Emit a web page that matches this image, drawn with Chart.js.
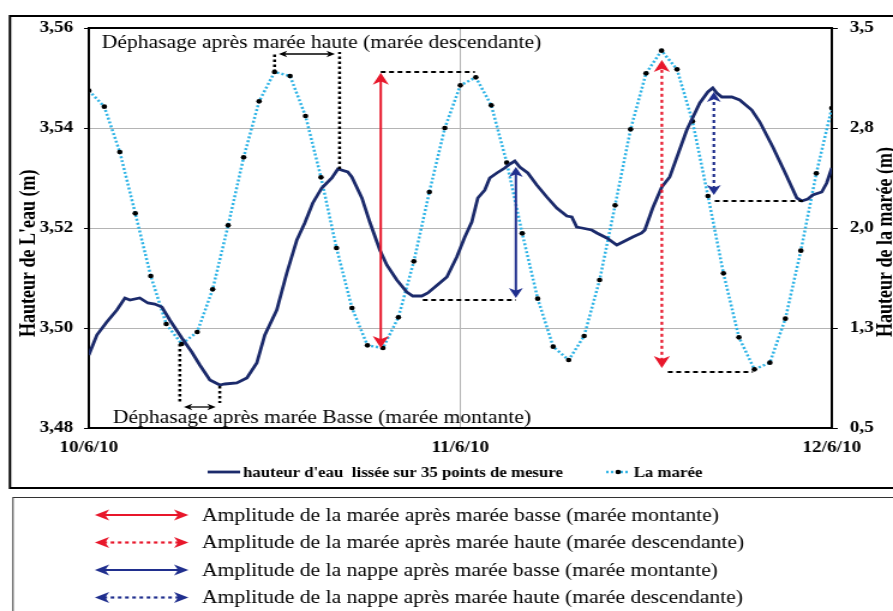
<!DOCTYPE html>
<html lang="fr">
<head>
<meta charset="utf-8">
<title>Hauteur d'eau et marée</title>
<script src="https://cdn.jsdelivr.net/npm/chart.js@4/dist/chart.umd.min.js"></script>
<style>
  html, body { margin: 0; padding: 0; background: #fff; }
  #fig { display: block; }
</style>
</head>
<body>
<!-- drawn at 744px wide, widened to the page by CSS -->
<canvas id="fig" width="744" height="611" style="width:893px;height:611px"></canvas>
<script>
'use strict';

// ── Data ────────────────────────────────────────────────
const dayHours  = [0, 24, 48];
const dayLabels = ['10/6/10', '11/6/10', '12/6/10'];

const levelTicks = [3.48, 3.50, 3.52, 3.54, 3.56];
const tideTicks  = [0.5, 1.25, 2.0, 2.75, 3.5];

// tide gauge, one reading per hour (m)
const tideHours = [0, 1, 2, 3, 4, 5, 6, 7, 8, 9, 10, 11, 12, 13, 14, 15, 16, 17, 18, 19, 20,
  21, 22, 23, 24, 25, 26, 27, 28, 29, 30, 31, 32, 33, 34, 35, 36, 37, 38, 39, 40,
  41, 42, 43, 44, 45, 46, 47, 48];
const tideHeight = [3.03, 2.91, 2.57, 2.11, 1.64, 1.28, 1.13, 1.22, 1.54, 2.02, 2.53,
  2.95, 3.17, 3.14, 2.84, 2.38, 1.85, 1.40, 1.12, 1.10, 1.33, 1.75, 2.27, 2.75, 3.07,
  3.13, 2.92, 2.49, 1.96, 1.47, 1.11, 1.01, 1.19, 1.61, 2.17, 2.74, 3.16, 3.33, 3.19,
  2.80, 2.24, 1.66, 1.18, 0.94, 0.99, 1.32, 1.83, 2.41, 2.90];

// piezometer, smoothed over 35 readings (m)
const levelHours = [0, 0.52, 1.16, 1.81, 2.33, 2.65, 3.29, 3.81, 4.26, 4.72,
  5.23, 6.01, 6.65, 7.17, 7.82, 8.46, 8.79, 9.56, 10.21, 10.85,
  11.37, 12.14, 12.79, 13.44, 13.95, 14.47, 15.05, 15.70, 16.09, 16.73,
  16.99, 17.64, 18.15, 18.80, 19.25, 19.90, 20.54, 20.93, 21.51, 21.90,
  22.67, 23.13, 23.77, 24.29, 24.74, 25.13, 25.58, 25.90, 26.36, 26.87,
  27.20, 27.52, 27.84, 28.36, 28.94, 29.59, 30.23, 30.88, 31.20, 31.52,
  31.85, 32.49, 32.82, 33.46, 34.11, 34.50, 35.14, 35.72, 35.92, 36.43,
  37.02, 37.53, 38.63, 39.47, 39.99, 40.31, 40.57, 40.89, 41.54, 42.05,
  42.83, 43.35, 44.19, 44.96, 45.74, 46.06, 46.45, 46.77, 47.35, 47.67, 48.0];
const levelHeight = [3.4946, 3.4986, 3.5012, 3.5036, 3.5060, 3.5056, 3.5060, 3.5050, 3.5048, 3.5042,
  3.5016, 3.4980, 3.4952, 3.4926, 3.4896, 3.4886, 3.4888, 3.4890, 3.4900, 3.4930,
  3.4986, 3.5036, 3.5110, 3.5176, 3.5210, 3.5250, 3.5280, 3.5300, 3.5318, 3.5312,
  3.5302, 3.5260, 3.5212, 3.5156, 3.5126, 3.5096, 3.5072, 3.5064, 3.5064, 3.5070,
  3.5090, 3.5102, 3.5142, 3.5182, 3.5212, 3.5260, 3.5276, 3.5300, 3.5310, 3.5320,
  3.5328, 3.5334, 3.5322, 3.5310, 3.5286, 3.5262, 3.5240, 3.5224, 3.5222, 3.5202,
  3.5200, 3.5196, 3.5190, 3.5180, 3.5166, 3.5172, 3.5182, 3.5190, 3.5196, 3.5240,
  3.5282, 3.5302, 3.5396, 3.5450, 3.5472, 3.5480, 3.5470, 3.5462, 3.5462, 3.5456,
  3.5436, 3.5412, 3.5362, 3.5312, 3.5260, 3.5254, 3.5258, 3.5266, 3.5272, 3.5290, 3.5320];

// amplitude arrows: [hour, low, high]
const tideRiseArrow  = [18.86, 1.10, 3.165];    // tide axis
const tideFallArrow  = [37.02, 0.95, 3.26];     // tide axis
const levelRiseArrow = [27.59, 3.5060, 3.5322]; // level axis
const levelFallArrow = [40.38, 3.5266, 3.5472]; // level axis

// dashed reference levels: [hourFrom, hourTo, value]
const tideRiseRef  = [18.86, 24.94, 3.17];
const tideFallRef  = [37.41, 42.90, 0.92];
const levelRiseRef = [21.58, 27.59, 3.5056];
const levelFallRef = [40.44, 46.13, 3.5254];

// phase shift brackets (level axis): legs [hour, start], bar [hourFrom, hourTo, value]
const highShiftLegs = [[12.0, 3.5512], [16.2, 3.5318]];
const highShiftEnd  = 3.5552;
const highShiftBar  = [12.27, 15.9, 3.5548];
const lowShiftLegs  = [[5.88, 3.4968], [8.46, 3.4884]];
const lowShiftEnd   = 3.4850;
const lowShiftBar   = [6.14, 8.2, 3.4842];

const seriesNames = ["hauteur d'eau  lissée sur 35 points de mesure", 'La marée'];
const highShiftText = 'Déphasage après marée haute (marée descendante)';
const lowShiftText  = 'Déphasage après marée Basse (marée montante)';
const keyRows = [
  'Amplitude de la marée après marée basse (marée montante)',
  'Amplitude de la marée après marée haute (marée descendante)',
  'Amplitude de la nappe après marée basse (marée montante)',
  'Amplitude de la nappe après marée haute (marée descendante)',
];

// ── Style ───────────────────────────────────────────────
const SERIF = "'Liberation Serif', 'Times New Roman', serif";
const NAVY  = '#1b2a6b';
const SKY   = '#2fb4e6';
const RED   = '#e8172b';
const BLUE  = '#202f8e';
const GRID  = '#b4b4b4';

Chart.defaults.font.family = SERIF;
Chart.defaults.color = '#000';

// ── Drawing helpers ─────────────────────────────────────
function head(ctx, x, y, ux, uy, len, half) {
  const bx = x - ux * len, by = y - uy * len;
  const nx = -uy, ny = ux;
  ctx.beginPath();
  ctx.moveTo(x, y);
  ctx.lineTo(bx + nx * half, by + ny * half);
  ctx.lineTo(x - ux * len * 0.72, y - uy * len * 0.72);
  ctx.lineTo(bx - nx * half, by - ny * half);
  ctx.closePath();
  ctx.fill();
}

function doubleArrow(ctx, x1, y1, x2, y2, o) {
  const d = Math.hypot(x2 - x1, y2 - y1);
  const ux = (x2 - x1) / d, uy = (y2 - y1) / d;
  ctx.save();
  ctx.strokeStyle = ctx.fillStyle = o.color;
  ctx.lineWidth = o.width;
  ctx.setLineDash(o.dash || []);
  ctx.beginPath();
  ctx.moveTo(x1 + ux * o.len * 0.6, y1 + uy * o.len * 0.6);
  ctx.lineTo(x2 - ux * o.len * 0.6, y2 - uy * o.len * 0.6);
  ctx.stroke();
  ctx.setLineDash([]);
  head(ctx, x2, y2, ux, uy, o.len, o.half);
  head(ctx, x1, y1, -ux, -uy, o.len, o.half);
  ctx.restore();
}

function segment(ctx, x1, y1, x2, y2, width, dash) {
  ctx.save();
  ctx.strokeStyle = '#000';
  ctx.lineWidth = width;
  ctx.setLineDash(dash);
  ctx.beginPath();
  ctx.moveTo(x1, y1);
  ctx.lineTo(x2, y2);
  ctx.stroke();
  ctx.restore();
}

const ampStyles = {
  redSolid:  { color: RED,  width: 2,   len: 12, half: 6.7 },
  redDot:    { color: RED,  width: 2.2, len: 12, half: 6.7, dash: [3, 3] },
  blueSolid: { color: BLUE, width: 2,   len: 10, half: 5.8 },
  blueDot:   { color: BLUE, width: 2.2, len: 10, half: 5.8, dash: [3, 3] },
};

// ── Annotations on the plot ─────────────────────────────
const annotations = {
  id: 'annotations',
  afterDatasetsDraw(chart) {
    const { ctx, scales: { x, y, y1 } } = chart;
    const X = h => x.getPixelForValue(h);

    // dashed reference levels
    const dash = [4, 3];
    [[tideRiseRef, y1], [tideFallRef, y1], [levelRiseRef, y], [levelFallRef, y]].forEach(([r, s]) => {
      segment(ctx, X(r[0]), s.getPixelForValue(r[2]), X(r[1]), s.getPixelForValue(r[2]), 2, dash);
    });

    // amplitude arrows
    const amp = (a, s, st) => doubleArrow(ctx, X(a[0]), s.getPixelForValue(a[1]), X(a[0]), s.getPixelForValue(a[2]), st);
    amp(tideRiseArrow, y1, ampStyles.redSolid);
    amp(tideFallArrow, y1, ampStyles.redDot);
    amp(levelRiseArrow, y, ampStyles.blueSolid);
    amp(levelFallArrow, y, ampStyles.blueDot);

    // phase shift brackets
    const dots = [2.5, 2.5];
    highShiftLegs.forEach(([h, v]) => segment(ctx, X(h), y.getPixelForValue(v), X(h), y.getPixelForValue(highShiftEnd), 2.5, dots));
    lowShiftLegs.forEach(([h, v]) => segment(ctx, X(h), y.getPixelForValue(v), X(h), y.getPixelForValue(lowShiftEnd), 2.5, dots));
    const small = { color: '#000', width: 1.3, len: 7, half: 3.2 };
    doubleArrow(ctx, X(highShiftBar[0]), y.getPixelForValue(highShiftBar[2]), X(highShiftBar[1]), y.getPixelForValue(highShiftBar[2]), small);
    doubleArrow(ctx, X(lowShiftBar[0]), y.getPixelForValue(lowShiftBar[2]), X(lowShiftBar[1]), y.getPixelForValue(lowShiftBar[2]), small);

    ctx.save();
    ctx.fillStyle = '#000';
    ctx.font = `18px ${SERIF}`;
    ctx.textBaseline = 'alphabetic';
    ctx.fillText(highShiftText, 84.7, 48);
    ctx.fillText(lowShiftText, 94.1, 422.5);
    ctx.restore();
  },
};

// ── Frames, titles, legend and key ──────────────────────
const figure = {
  id: 'figure',
  beforeDraw(chart) {
    const { ctx } = chart;
    ctx.save();
    ctx.fillStyle = '#fff';
    ctx.fillRect(0, 0, chart.width, chart.height);
    ctx.strokeStyle = '#000';
    ctx.lineWidth = 2;
    ctx.strokeRect(8.3, 16, 800, 472);
    ctx.lineWidth = 1;
    ctx.strokeStyle = '#333';
    ctx.strokeRect(10.8, 497.5, 800, 200);
    ctx.restore();
  },
  afterDraw(chart) {
    const { ctx, chartArea: a } = chart;
    ctx.save();

    // top edge of the plot area
    ctx.strokeStyle = '#000';
    ctx.lineWidth = 2;
    ctx.beginPath();
    ctx.moveTo(a.left, a.top);
    ctx.lineTo(a.right, a.top);
    ctx.stroke();

    // axis titles, both read upwards
    ctx.fillStyle = '#000';
    ctx.font = `bold 18px ${SERIF}`;
    ctx.textBaseline = 'alphabetic';
    [[29, "Hauteur de L'eau (m)"], [743.3, 'Hauteur de la marée (m)']].forEach(([bx, t]) => {
      ctx.save();
      ctx.translate(bx, 337);
      ctx.rotate(-Math.PI / 2);
      ctx.fillText(t, 0, 0);
      ctx.restore();
    });

    // series legend
    const ly = 472;
    ctx.strokeStyle = NAVY;
    ctx.lineWidth = 2.8;
    ctx.beginPath(); ctx.moveTo(173, ly); ctx.lineTo(200, ly); ctx.stroke();
    ctx.strokeStyle = SKY;
    ctx.lineWidth = 2.5;
    ctx.setLineDash([2, 2]);
    ctx.beginPath(); ctx.moveTo(505, ly); ctx.lineTo(524, ly); ctx.stroke();
    ctx.setLineDash([]);
    ctx.fillStyle = '#000';
    ctx.beginPath(); ctx.arc(515, ly, 2.3, 0, Math.PI * 2); ctx.fill();
    ctx.font = `bold 14px ${SERIF}`;
    ctx.textBaseline = 'middle';
    ctx.fillText(seriesNames[0], 202.5, ly + 1);
    ctx.fillText(seriesNames[1], 528, ly + 1);

    // key of the amplitude arrows
    const keyStyles = [ampStyles.redSolid, ampStyles.redDot, ampStyles.blueSolid, ampStyles.blueDot];
    const rowY = [515, 542.5, 570, 597.5];
    ctx.font = `18px ${SERIF}`;
    keyRows.forEach((t, i) => {
      const st = { ...keyStyles[i], len: 12, half: 5.5 };
      doubleArrow(ctx, 79, rowY[i], 157, rowY[i], st);
      ctx.fillStyle = '#000';
      ctx.fillText(t, 168.3, rowY[i] + 1);
    });
    ctx.restore();
  },
};

// ── Chart ───────────────────────────────────────────────
const tickFont = { family: SERIF, size: 16, weight: 'bold' };

new Chart(document.getElementById('fig'), {
  type: 'line',
  data: {
    datasets: [
      {
        label: seriesNames[0],
        data: levelHours.map((h, i) => ({ x: h, y: levelHeight[i] })),
        yAxisID: 'y',
        borderColor: NAVY,
        borderWidth: 2.8,
        pointRadius: 0,
        tension: 0,
      },
      {
        label: seriesNames[1],
        data: tideHours.map((h, i) => ({ x: h, y: tideHeight[i] })),
        yAxisID: 'y1',
        borderColor: SKY,
        borderWidth: 2.5,
        borderDash: [2, 2],
        pointRadius: 2.3,
        pointBackgroundColor: '#000',
        pointBorderWidth: 0,
        tension: 0,
      },
    ],
  },
  options: {
    responsive: false,
    animation: false,
    devicePixelRatio: 1,
    layout: { padding: { left: 8, right: 0, top: 28, bottom: 153 } },
    plugins: { legend: { display: false }, tooltip: { enabled: false } },
    scales: {
      x: {
        type: 'linear',
        min: 0, max: 48,
        afterBuildTicks: s => { s.ticks = dayHours.map(v => ({ value: v })); },
        afterFit: s => { s.height = 30; },
        ticks: { font: tickFont, color: '#000', padding: 10, maxRotation: 0, autoSkip: false,
                 callback: v => dayLabels[dayHours.indexOf(v)] },
        grid: { color: GRID, lineWidth: 1, drawTicks: false },
        border: { color: '#000', width: 2 },
      },
      y: {
        position: 'left',
        min: 3.48, max: 3.56,
        afterBuildTicks: s => { s.ticks = levelTicks.map(v => ({ value: v })); },
        afterFit: s => { s.width = 66; },
        ticks: { font: tickFont, color: '#000', padding: 9,
                 callback: v => v.toFixed(2).replace('.', ',') },
        grid: { color: GRID, lineWidth: 1, tickLength: 4, tickColor: '#000' },
        border: { color: '#000', width: 2 },
      },
      y1: {
        position: 'right',
        min: 0.5, max: 3.5,
        afterBuildTicks: s => { s.ticks = tideTicks.map(v => ({ value: v })); },
        afterFit: s => { s.width = 51; },
        ticks: { font: tickFont, color: '#000', padding: 10,
                 callback: v => v.toFixed(1).replace('.', ',') },
        grid: { drawOnChartArea: false, tickLength: 5, tickColor: '#000' },
        border: { color: '#000', width: 2 },
      },
    },
  },
  plugins: [figure, annotations],
});
</script>
</body>
</html>
